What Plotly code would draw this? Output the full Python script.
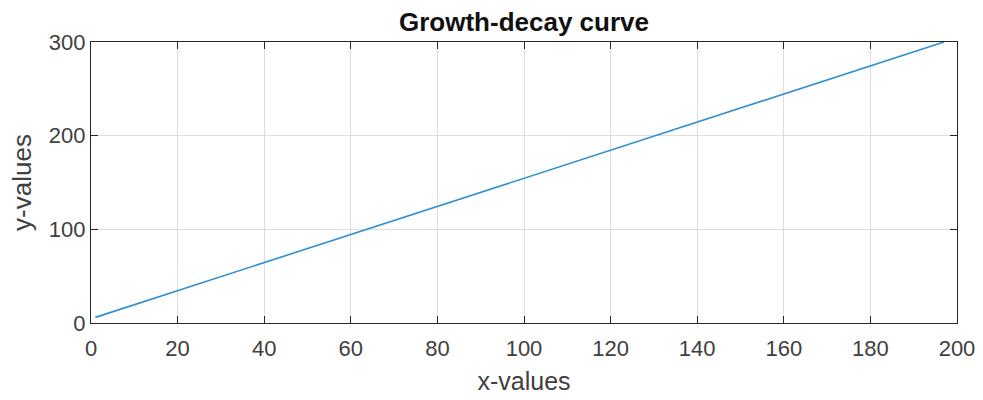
import plotly.graph_objects as go

x_values = [1, 20, 40, 60, 80, 100, 120, 140, 160, 180, 197]
y_values = [6, 34.5, 64.5, 94.5, 124.5, 154.5, 184.5, 214.5, 244.5, 274.5, 300]
x_ticks = [0, 20, 40, 60, 80, 100, 120, 140, 160, 180, 200]
y_ticks = [0, 100, 200, 300]

FONT = "Liberation Sans, Arial"

fig = go.Figure()
fig.add_trace(go.Scatter(x=x_values, y=y_values, mode="lines",
                         line=dict(color="#2f8fd3", width=1.6), showlegend=False))

axis_common = dict(
    showline=True, linecolor="#262626", linewidth=1.3, mirror="ticks",
    ticks="inside", ticklen=7, tickwidth=1, tickcolor="#262626",
    showgrid=True, gridcolor="#dedede", gridwidth=1, zeroline=False,
    automargin=False,
    tickfont=dict(family=FONT, size=22, color="#404040"),
)

fig.update_layout(
    width=983, height=400,
    margin=dict(l=91, r=26, t=42, b=77),
    paper_bgcolor="white", plot_bgcolor="white",
    title=dict(text="<b>Growth-decay curve</b>", x=0.5, xanchor="center", xref="paper",
               y=1 - 22 / 400, yanchor="middle",
               font=dict(family=FONT, size=26, color="#111111")),
    xaxis=dict(range=[0, 200], tickvals=x_ticks, ticklabelstandoff=5,
               title=dict(text="x-values", standoff=12,
                          font=dict(family=FONT, size=25, color="#404040")),
               **axis_common),
    yaxis=dict(range=[0, 300], tickvals=y_ticks,
               title=dict(text="y-values", standoff=9,
                          font=dict(family=FONT, size=26, color="#404040")),
               **axis_common),
)
fig.write_html("out.html")
